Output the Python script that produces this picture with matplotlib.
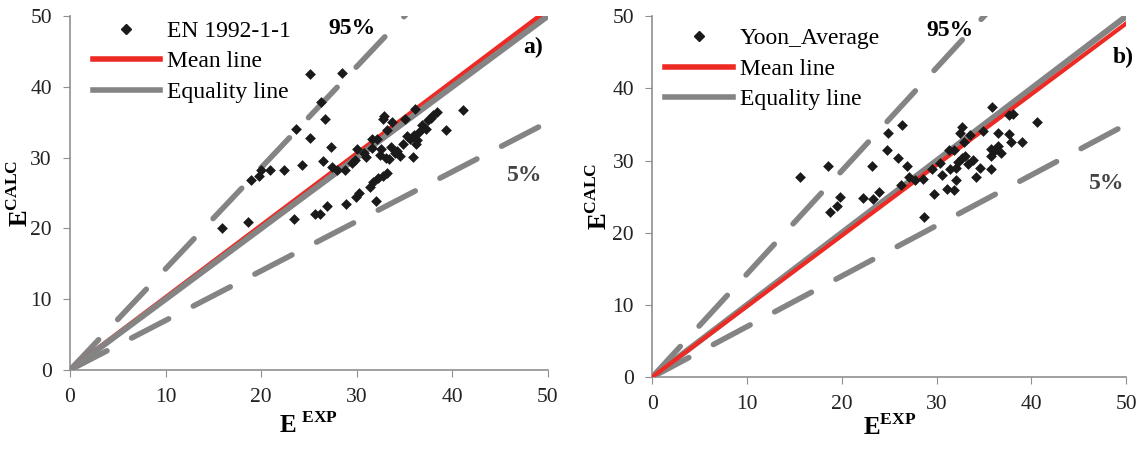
import numpy as np
import matplotlib.pyplot as plt
from matplotlib.lines import Line2D

plt.rcParams['font.family'] = 'Liberation Serif'
plt.rcParams['mathtext.fontset'] = 'custom'
plt.rcParams['mathtext.bf'] = 'Liberation Serif:bold'
plt.rcParams['mathtext.rm'] = 'Liberation Serif'

# panel a) EN 1992-1-1
exp_a = [25.1, 28.5, 26.3, 26.7, 23.7, 25.1, 27.3, 26.5, 24.3, 22.4, 20.9, 20.0, 19.8, 18.9,
         18.6, 15.9, 23.4, 25.6, 26.2, 26.9, 28.9, 29.9, 30.2, 32.0, 31.4, 31.7, 32.2, 32.8,
         33.2, 27.4, 27.9, 28.8, 29.8, 30.0, 30.8, 31.6, 31.6, 32.1, 32.8, 32.9, 33.2, 33.7,
         35.1, 36.1, 32.4, 32.6, 33.1, 33.6, 34.0, 34.5, 34.9, 35.9, 35.6, 36.0, 36.3, 36.5,
         36.8, 37.5, 38.0, 38.4, 39.4, 41.1, 37.3, 36.2, 34.2, 33.4, 35.3, 31.0, 29.5, 37.8]
calc_a = [41.8, 42.0, 37.8, 35.4, 34.1, 32.8, 31.5, 29.6, 29.0, 28.2, 28.2, 28.3, 27.4, 26.8,
          20.9, 20.0, 21.3, 22.1, 22.0, 23.2, 23.5, 24.5, 25.0, 23.9, 25.9, 26.6, 27.1, 27.4,
          27.9, 28.7, 28.3, 28.2, 29.7, 31.2, 30.6, 31.4, 32.7, 32.7, 35.5, 35.9, 33.9, 35.1,
          35.4, 36.9, 30.4, 31.2, 30.0, 31.5, 30.6, 30.2, 31.9, 30.1, 32.7, 33.2, 32.5, 33.6,
          34.6, 35.3, 36.0, 36.5, 33.9, 36.7, 34.0, 32.0, 31.0, 29.8, 33.0, 30.1, 29.3, 35.6]

# panel b) Yoon_Average
exp_b = [15.6, 18.6, 18.8, 19.5, 19.8, 22.2, 23.3, 23.9, 23.2, 24.8, 24.9, 26.3, 25.9, 26.9,
         26.2, 27.1, 27.7, 28.6, 28.7, 29.7, 29.5, 30.4, 30.6, 31.1, 31.8, 32.0, 31.4, 31.3,
         31.8, 32.3, 32.7, 33.0, 33.3, 32.9, 32.5, 32.7, 33.5, 34.1, 34.6, 34.9, 35.7, 35.7,
         35.8, 35.7, 36.1, 36.5, 36.5, 37.6, 37.8, 37.6, 38.1, 39.0, 40.6, 32.0, 33.8, 36.8]
calc_b = [27.7, 29.2, 22.9, 23.7, 24.9, 24.8, 24.7, 25.7, 29.2, 31.4, 33.8, 34.9, 30.4, 29.3,
          26.6, 27.7, 27.3, 27.4, 22.2, 25.3, 28.8, 29.6, 28.0, 26.0, 25.9, 27.3, 28.8, 31.4,
          31.4, 29.8, 30.4, 30.7, 29.5, 32.6, 33.8, 34.7, 33.5, 27.7, 29.0, 34.1, 28.8, 30.7,
          37.4, 31.6, 31.3, 32.0, 33.8, 33.7, 32.6, 36.3, 36.5, 32.6, 35.4, 29.0, 30.1, 31.0]

mean_slope = [1.016, 0.98]
upper_slope = 1 / 0.7
lower_slope = 0.7
series_names = ['EN 1992-1-1', 'Yoon_Average']
panel_tags = ['a)', 'b)']

red = '#ee2a24'
gray = '#848484'

fig = plt.figure(figsize=(11.4, 4.49), dpi=100)
axes = [fig.add_axes([0.0614, 0.176, 0.419, 0.788]),
        fig.add_axes([0.572, 0.160, 0.416, 0.804])]
data = [(exp_a, calc_a), (exp_b, calc_b)]

# placement of the texts in each panel (axes fractions)
leg_anchor = [(0.028, 1.015), (0.008, 0.994)]
pos95 = [(0.59, 0.966), (0.628, 0.961)]
pos5 = [(0.952, 0.55), (0.958, 0.537)]
pos_tag = [(0.969, 0.912), (0.993, 0.886)]

for i, ax in enumerate(axes):
    ex, ca = data[i]
    xx = np.array([0, 50])
    ax.plot(xx, upper_slope * xx, color=gray, lw=4, dashes=(7.5, 5),
            dash_capstyle='round', zorder=1)
    ax.plot(xx, lower_slope * xx, color=gray, lw=4, dashes=(7.5, 5),
            dash_capstyle='round', zorder=1)
    if i == 0:
        ax.plot(xx, mean_slope[i] * xx, color=red, lw=4, zorder=2)
        ax.plot(xx, xx, color=gray, lw=4.3, zorder=3)
    else:
        ax.plot(xx, xx, color=gray, lw=4.3, zorder=2)
        ax.plot(xx, mean_slope[i] * xx, color=red, lw=3, zorder=3)
    ax.scatter(ex, ca, marker='D', s=30, color='#1a1a1a', zorder=4, linewidths=0)

    ax.set_xlim(0, 50)
    ax.set_ylim(0, 50)
    ax.set_xticks(range(0, 51, 10))
    ax.set_yticks(range(0, 51, 10))
    for s in ['top', 'right']:
        ax.spines[s].set_visible(False)
    for s in ['left', 'bottom']:
        ax.spines[s].set_color('#909090')
        ax.spines[s].set_linewidth(1.2)
    ax.tick_params(direction='out', length=5, color='#909090', labelsize=15.5,
                   labelcolor='#222222', pad=8)

    handles = [Line2D([], [], marker='D', color='#1a1a1a', ls='none', markersize=5),
               Line2D([], [], color=red, lw=4),
               Line2D([], [], color=gray, lw=4)]
    ax.legend(handles, [series_names[i], 'Mean line', 'Equality line'], loc='upper left',
              bbox_to_anchor=leg_anchor[i], frameon=False, fontsize=17, handlelength=2.85,
              handletextpad=0.3, labelspacing=0.38, borderaxespad=0)

    ax.text(*pos95[i], '95%', transform=ax.transAxes, fontsize=17, fontweight='bold',
            ha='center', va='center')
    ax.text(*pos5[i], '5%', transform=ax.transAxes, fontsize=17,
            fontweight='bold', ha='center', va='center', color='#444444')
    ax.text(*pos_tag[i], panel_tags[i], transform=ax.transAxes,
            fontsize=17, fontweight='bold', ha='center', va='center')

axes[0].set_xlabel(r'$\mathbf{E}^{\ \mathbf{EXP}}$', fontsize=18, labelpad=4)
axes[1].set_xlabel(r'$\mathbf{E}^{\mathbf{EXP}}$', fontsize=18, labelpad=0)
axes[0].set_ylabel(r'$\mathbf{E}^{\mathbf{CALC}}$', fontsize=18, labelpad=-2)
axes[1].set_ylabel(r'$\mathbf{E}^{\mathbf{CALC}}$', fontsize=18, labelpad=0)

fig.savefig('out.png', dpi=100)
